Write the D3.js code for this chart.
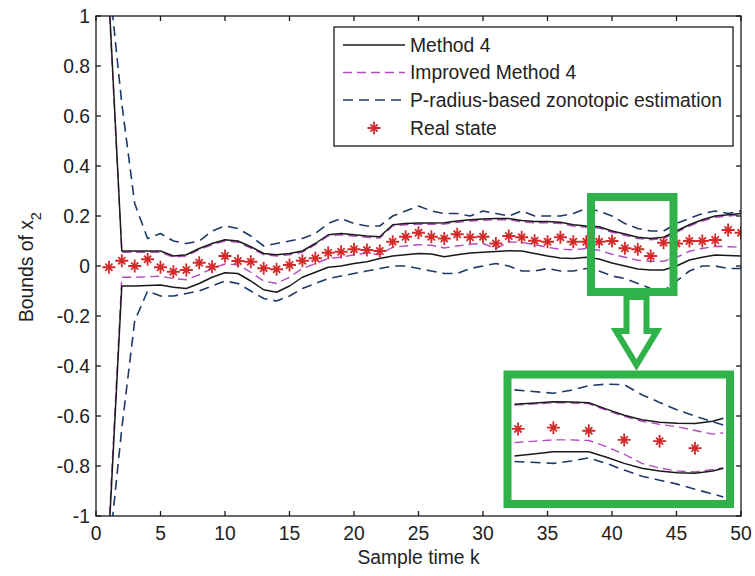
<!DOCTYPE html>
<html>
<head>
<meta charset="utf-8">
<script src="https://cdn.jsdelivr.net/npm/d3@7"></script>
<style>
  html, body { margin: 0; padding: 0; background: #fff; }
  svg { display: block; font-family: "Liberation Sans", Arial, sans-serif; }
</style>
</head>
<body>
<svg id="chart" width="755" height="576"></svg>
<script>
// ---------------- data ----------------
const sampleK = [1,2,3,4,5,6,7,8,9,10,11,12,13,14,15,16,17,18,19,20,21,22,23,24,25,
                 26,27,28,29,30,31,32,33,34,35,36,37,38,39,40,41,42,43,44,45,46,47,48,49,50];
const realState = [-0.005,0.021,0.0,0.027,-0.005,-0.023,-0.016,0.013,-0.003,0.04,
                   0.02,0.017,-0.009,-0.013,0.004,0.021,0.031,0.053,0.057,0.067,
                   0.064,0.06,0.097,0.117,0.133,0.117,0.11,0.127,0.115,0.117,
                   0.09,0.12,0.115,0.101,0.097,0.115,0.097,0.097,0.097,0.1,
                   0.071,0.067,0.04,0.093,0.09,0.1,0.1,0.104,0.144,0.133];
const method4Upper = [1.08,0.06,0.06,0.06,0.06,0.04,0.045,0.07,0.09,0.105,
                      0.1,0.077,0.05,0.045,0.05,0.06,0.09,0.125,0.13,0.125,
                      0.12,0.117,0.165,0.17,0.172,0.172,0.173,0.18,0.185,0.188,
                      0.19,0.19,0.182,0.178,0.178,0.175,0.165,0.16,0.157,0.14,
                      0.128,0.115,0.11,0.115,0.14,0.165,0.185,0.2,0.205,0.21];
const method4Lower = [-1.08,-0.08,-0.08,-0.078,-0.076,-0.085,-0.09,-0.07,-0.045,-0.027,
                      -0.03,-0.06,-0.095,-0.105,-0.08,-0.045,-0.025,-0.005,0.0,0.01,
                      0.017,0.03,0.04,0.045,0.05,0.048,0.037,0.045,0.052,0.055,
                      0.058,0.061,0.06,0.05,0.04,0.032,0.03,0.035,0.028,0.012,
                      0.0,-0.012,-0.016,-0.016,0.0,0.024,0.035,0.044,0.042,0.04];
const improvedUpper = [1.06,0.055,0.055,0.055,0.055,0.035,0.04,0.065,0.085,0.1,
                       0.095,0.072,0.045,0.04,0.045,0.055,0.085,0.12,0.125,0.12,
                       0.115,0.112,0.16,0.165,0.167,0.167,0.168,0.175,0.18,0.183,
                       0.185,0.185,0.177,0.173,0.173,0.17,0.16,0.155,0.152,0.135,
                       0.123,0.11,0.105,0.11,0.135,0.16,0.18,0.195,0.2,0.205];
const improvedLower = [-1.05,-0.045,-0.045,-0.043,-0.041,-0.05,-0.055,-0.035,-0.01,0.008,
                       0.005,-0.025,-0.06,-0.07,-0.045,-0.01,0.01,0.03,0.035,0.045,
                       0.052,0.045,0.075,0.08,0.085,0.083,0.072,0.08,0.087,0.09,
                       0.07,0.096,0.095,0.085,0.075,0.067,0.065,0.07,0.063,0.047,
                       0.035,0.023,0.019,0.019,0.035,0.059,0.07,0.079,0.077,0.075];
const pRadiusUpper = [1.15,0.65,0.25,0.11,0.13,0.1,0.09,0.1,0.14,0.16,
                      0.15,0.12,0.08,0.09,0.1,0.11,0.13,0.17,0.19,0.17,
                      0.16,0.16,0.2,0.22,0.24,0.22,0.21,0.21,0.2,0.22,
                      0.21,0.2,0.22,0.2,0.2,0.2,0.21,0.23,0.22,0.2,
                      0.17,0.15,0.14,0.14,0.17,0.19,0.21,0.22,0.21,0.22];
const pRadiusLower = [-1.15,-0.65,-0.22,-0.1,-0.12,-0.12,-0.11,-0.1,-0.08,-0.06,
                      -0.07,-0.1,-0.13,-0.14,-0.12,-0.09,-0.07,-0.05,-0.04,-0.03,
                      -0.02,-0.01,0.0,0.0,-0.01,-0.02,-0.03,-0.03,-0.01,0.0,
                      0.01,0.0,-0.02,-0.02,-0.01,-0.02,-0.02,-0.01,-0.02,-0.04,
                      -0.05,-0.07,-0.09,-0.1,-0.06,-0.02,0.0,0.0,-0.01,-0.01];

const xTicks = [0,5,10,15,20,25,30,35,40,45,50];
const yTicks = [-1,-0.8,-0.6,-0.4,-0.2,0,0.2,0.4,0.6,0.8,1];
const yTickLabels = ["-1","-0.8","-0.6","-0.4","-0.2","0","0.2","0.4","0.6","0.8","1"];
const legendLabels = ["Method 4","Improved Method 4","P-radius-based zonotopic estimation","Real state"];

// zoomed inset (magnified view of k≈39..45)
const insetK = [38.9,39.5,40,40.5,41,41.5,42,42.5,43,43.5,44,44.5,44.8];
const insetStarK = [39,40,41,42,43,44];
const insetStars = [0.083,0.087,0.077,0.047,0.043,0.02];
const insetM4Upper = [0.164,0.168,0.172,0.171,0.169,0.148,0.128,0.113,0.105,0.102,0.101,0.108,0.118];
const insetM4Lower = [-0.006,0.002,0.008,0.008,0.008,-0.01,-0.03,-0.046,-0.055,-0.061,-0.062,-0.055,-0.046];
const insetImpUpper = [0.161,0.165,0.169,0.168,0.166,0.144,0.124,0.108,0.098,0.09,0.078,0.066,0.07];
const insetImpLower = [0.038,0.043,0.047,0.047,0.045,0.025,0.0,-0.03,-0.045,-0.055,-0.058,-0.05,-0.045];
const insetPUpper = [0.211,0.205,0.2,0.21,0.225,0.23,0.228,0.195,0.17,0.145,0.125,0.107,0.096];
const insetPLower = [-0.024,-0.027,-0.03,-0.022,-0.012,-0.03,-0.052,-0.072,-0.085,-0.098,-0.115,-0.13,-0.14];

// ---------------- styles ----------------
const C_BLACK = "#1a1a1a", C_MAG = "#b04cc0", C_BLUE = "#1d3a66", C_RED = "#d42a2a", C_GREEN = "#2fb24a";
const FS = 19.3;

const svg = d3.select("#chart");
const L = 96, R = 741, T = 16, B = 516;
const x = d3.scaleLinear().domain([0, 50]).range([L, R]);
const y = d3.scaleLinear().domain([-1, 1]).range([B, T]);

svg.append("defs").append("clipPath").attr("id", "plotclip")
  .append("rect").attr("x", L).attr("y", T).attr("width", R - L).attr("height", B - T);

const plot = svg.append("g").attr("clip-path", "url(#plotclip)");

function addLine(g, xs, ys, xsc, ysc, color, width, dash) {
  const pts = xs.map((k, i) => [k, ys[i]]);
  const line = d3.line().x(d => xsc(d[0])).y(d => ysc(d[1]));
  g.append("path").attr("d", line(pts)).attr("fill", "none")
    .attr("stroke", color).attr("stroke-width", width)
    .attr("stroke-dasharray", dash || null).attr("stroke-linejoin", "round");
}
function starPath(cx, cy, r) {
  const d = r * 0.55;
  return `M${cx - r},${cy}L${cx + r},${cy}M${cx},${cy - r}L${cx},${cy + r}` +
         `M${cx - d},${cy - d}L${cx + d},${cy + d}M${cx - d},${cy + d}L${cx + d},${cy - d}`;
}

addLine(plot, sampleK, improvedUpper, x, y, C_MAG, 1.4, "9,5");
addLine(plot, sampleK, improvedLower, x, y, C_MAG, 1.4, "9,5");
addLine(plot, sampleK, method4Upper, x, y, C_BLACK, 1.5);
addLine(plot, sampleK, method4Lower, x, y, C_BLACK, 1.5);
addLine(plot, sampleK, pRadiusUpper, x, y, C_BLUE, 1.6, "10,6");
addLine(plot, sampleK, pRadiusLower, x, y, C_BLUE, 1.6, "10,6");

plot.selectAll("path.star").data(sampleK).enter().append("path")
  .attr("class", "star")
  .attr("d", (k, i) => starPath(x(k), y(realState[i]), 6.5))
  .attr("stroke", C_RED).attr("stroke-width", 1.8).attr("fill", "none");

// ---------------- axes (box with inward ticks) ----------------
const axG = svg.append("g").attr("font-size", FS).attr("fill", "#222");
axG.append("rect").attr("x", L).attr("y", T).attr("width", R - L).attr("height", B - T)
  .attr("fill", "none").attr("stroke", C_BLACK).attr("stroke-width", 1.3);
const TL = 5;
xTicks.forEach(k => {
  axG.append("line").attr("x1", x(k)).attr("x2", x(k)).attr("y1", B).attr("y2", B - TL).attr("stroke", C_BLACK).attr("stroke-width", 1.3);
  axG.append("line").attr("x1", x(k)).attr("x2", x(k)).attr("y1", T).attr("y2", T + TL).attr("stroke", C_BLACK).attr("stroke-width", 1.3);
  axG.append("text").attr("x", x(k)).attr("y", 540).attr("text-anchor", "middle").text(String(k));
});
yTicks.forEach((v, i) => {
  axG.append("line").attr("x1", L).attr("x2", L + TL).attr("y1", y(v)).attr("y2", y(v)).attr("stroke", C_BLACK).attr("stroke-width", 1.3);
  axG.append("line").attr("x1", R).attr("x2", R - TL).attr("y1", y(v)).attr("y2", y(v)).attr("stroke", C_BLACK).attr("stroke-width", 1.3);
  axG.append("text").attr("x", 90).attr("y", y(v)).attr("dy", "0.36em").attr("text-anchor", "end").text(yTickLabels[i]);
});
axG.append("text").attr("x", (L + R) / 2).attr("y", 564).attr("text-anchor", "middle").text("Sample time k");
const yl = axG.append("text").attr("transform", "translate(33,322) rotate(-90)").attr("text-anchor", "start");
yl.append("tspan").text("Bounds of x");
yl.append("tspan").attr("baseline-shift", "sub").attr("font-size", FS * 0.75).text("2");

// ---------------- legend ----------------
const lg = svg.append("g");
lg.append("rect").attr("x", 334).attr("y", 27).attr("width", 399).attr("height", 119)
  .attr("fill", "#fff").attr("stroke", C_BLACK).attr("stroke-width", 1.3);
const rowsY = [45, 72.5, 100, 128];
const lstyles = [[C_BLACK, null], [C_MAG, "9,5"], [C_BLUE, "10,6"]];
legendLabels.forEach((lab, i) => {
  if (i < 3) {
    lg.append("line").attr("x1", 343).attr("x2", 405).attr("y1", rowsY[i]).attr("y2", rowsY[i])
      .attr("stroke", lstyles[i][0]).attr("stroke-width", 1.5).attr("stroke-dasharray", lstyles[i][1]);
  } else {
    lg.append("path").attr("d", starPath(374, rowsY[i], 6.5)).attr("stroke", C_RED).attr("stroke-width", 1.8).attr("fill", "none");
  }
  lg.append("text").attr("x", 410).attr("y", rowsY[i]).attr("dy", "0.36em")
    .attr("font-size", FS).attr("fill", "#222").text(lab);
});

// ---------------- zoom highlight box, arrow and inset ----------------
svg.append("rect").attr("x", 591).attr("y", 197).attr("width", 82.5).attr("height", 95)
  .attr("fill", "none").attr("stroke", C_GREEN).attr("stroke-width", 8);
svg.append("path")
  .attr("d", "M626.5,297 L626.5,331 L616,331 L636.5,365 L657,331 L646.5,331 L646.5,297 Z")
  .attr("fill", "#fff").attr("stroke", C_GREEN).attr("stroke-width", 6).attr("stroke-linejoin", "miter");

const IL = 512, IR = 727, IT = 378, IB = 500;
svg.append("rect").attr("x", 507.5).attr("y", 374.5).attr("width", 222.5).attr("height", 129.5)
  .attr("fill", "#fff").attr("stroke", C_GREEN).attr("stroke-width", 8);
svg.select("defs").append("clipPath").attr("id", "insetclip")
  .append("rect").attr("x", IL).attr("y", IT).attr("width", IR - IL).attr("height", IB - IT);
const ix = d3.scaleLinear().domain([39, 44]).range([518, 695]);
const iy = d3.scaleLinear().domain([-0.15, 0.25]).range([500, 378]);
const inset = svg.append("g").attr("clip-path", "url(#insetclip)");
addLine(inset, insetK, insetImpUpper, ix, iy, C_MAG, 1.4, "9,5");
addLine(inset, insetK, insetImpLower, ix, iy, C_MAG, 1.4, "9,5");
addLine(inset, insetK, insetM4Upper, ix, iy, C_BLACK, 1.5);
addLine(inset, insetK, insetM4Lower, ix, iy, C_BLACK, 1.5);
addLine(inset, insetK, insetPUpper, ix, iy, C_BLUE, 1.6, "10,6");
addLine(inset, insetK, insetPLower, ix, iy, C_BLUE, 1.6, "10,6");
inset.selectAll("path.istar").data(insetStarK).enter().append("path")
  .attr("class", "istar")
  .attr("d", (k, i) => starPath(ix(k), iy(insetStars[i]), 6.5))
  .attr("stroke", C_RED).attr("stroke-width", 1.8).attr("fill", "none");
</script>
</body>
</html>
